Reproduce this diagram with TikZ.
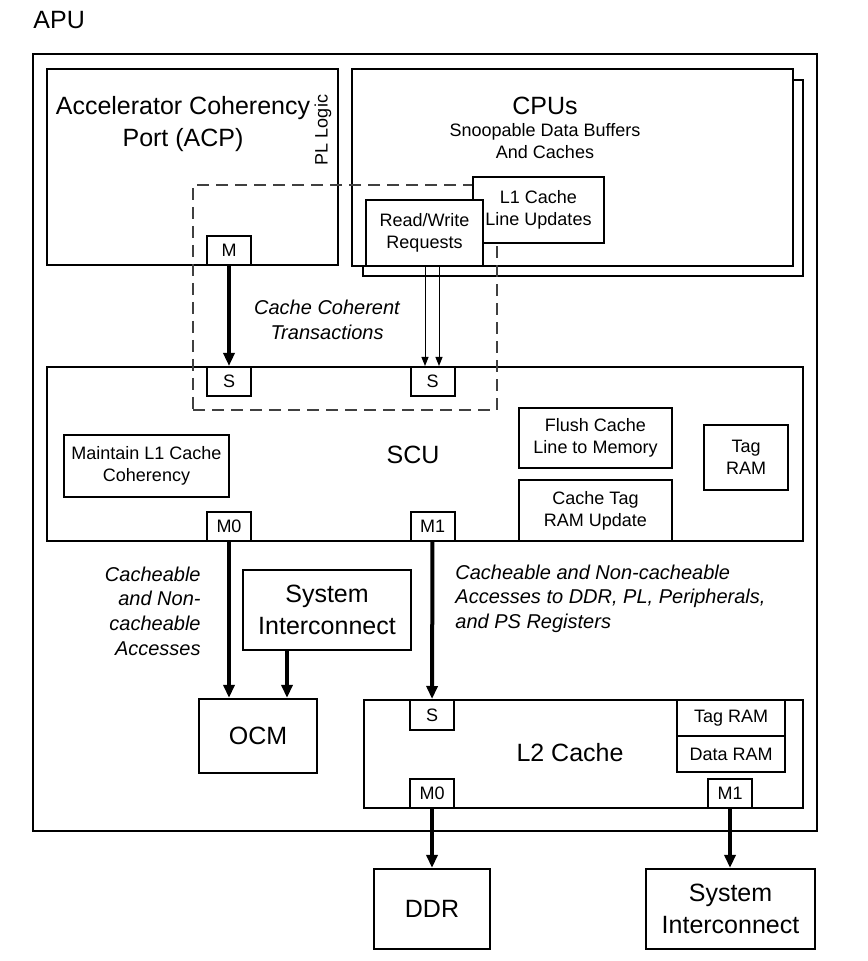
\documentclass[tikz,border=0pt]{standalone}
\usepackage{fontspec}
\setmainfont{Liberation Sans}
\usetikzlibrary{arrows.meta, positioning}

\tikzset{
	box/.style={draw, line width=1.1pt, fill=white, inner sep=0pt},
	port/.style={draw, line width=1pt, fill=white, inner sep=0pt, minimum width=22pt, minimum height=14.5pt, font=\fontsize{9}{11}\selectfont},
	bigtext/.style={font=\fontsize{12.5}{16}\selectfont, align=center, inner sep=0pt},
	smalltext/.style={font=\fontsize{9}{11}\selectfont, align=center},
	note/.style={font=\fontsize{10}{12.3}\selectfont\itshape, inner sep=0pt},
	bus/.style={line width=2pt, -{Triangle[length=6.5pt,width=5.5pt]}},
	req/.style={line width=0.5pt, -{Triangle[length=4.5pt,width=3.5pt]}},
	cohbox/.style={draw=black!75, line width=0.6pt, dash pattern=on 6pt off 3.5pt, inner sep=0pt},
}

\begin{document}
\begin{tikzpicture}[x=0.5pt, y=-0.5pt]
	\useasboundingbox (0,0) rectangle (867,961);

	% APU frame
	\node[bigtext, anchor=west] (apulabel) at (33,20) {APU};
	\node[box, minimum width=392pt, minimum height=388.5pt] (apu) at (425,442.5) {};

	% ACP
	\node[box, minimum width=145.5pt, minimum height=98pt] (acp) at (192.5,167) {};
	\node[bigtext] (acptext) at (183,124) {Accelerator Coherency\\Port (ACP)};
	\node[smalltext, rotate=90, inner sep=0pt] (pl) at (323,130) {PL Logic};

	% CPUs (two stacked boxes)
	\node[box, minimum width=220pt, minimum height=98pt] (cpuback) at (583,178) {};
	\node[box, minimum width=220.5pt, minimum height=98.5pt] (cpu) at (572.5,167.5) {};
	\node[bigtext] (cputitle) at (545,106) {CPUs};
	\node[smalltext, inner sep=0pt] (cpusub) at (545,141) {Snoopable Data Buffers\\And Caches};

	% SCU
	\node[box, minimum width=378pt, minimum height=87pt] (scu) at (425,454) {};
	\node[bigtext] (scutext) at (413,455) {SCU};

	% Coherent region
	\node[cohbox, minimum width=152pt, minimum height=112.5pt] (coh) at (345,297.5) {};
	\node[note, align=center] (cohtext) at (327,320) {Cache Coherent\\Transactions};

	\node[box, smalltext, minimum width=65.5pt, minimum height=33pt] (l1) at (538.5,210) {L1 Cache\\Line Updates};
	\node[box, smalltext, minimum width=58.5pt, minimum height=33pt] (rw) at (424.5,233) {Read/Write\\Requests};

	% Ports
	\node[port] (acpm) at (229,250.5) {M};
	\node[port] (scus0) at (229,381.5) {S};
	\node[port] (scus1) at (432.5,381.5) {S};
	\node[port] (scum0) at (229,526.5) {M0};
	\node[port] (scum1) at (432.5,526.5) {M1};

	% SCU blocks
	\node[box, smalltext, minimum width=82.5pt, minimum height=31pt] (maint) at (146.5,466) {Maintain L1 Cache\\Coherency};
	\node[box, smalltext, minimum width=76.5pt, minimum height=30pt] (flush) at (595.5,438) {Flush Cache\\Line to Memory};
	\node[box, smalltext, minimum width=76.5pt, minimum height=30.5pt] (tagupd) at (595.5,510.5) {Cache Tag\\RAM Update};
	\node[box, smalltext, minimum width=42pt, minimum height=32.5pt] (scutag) at (746,457.5) {Tag\\RAM};

	% OCM side
	\node[box, bigtext, minimum width=84pt, minimum height=40pt] (sysic) at (327,610) {System\\Interconnect};
	\node[box, bigtext, minimum width=59pt, minimum height=37pt] (ocm) at (258,736) {OCM};
	\node[note, align=right, anchor=east] (ocmnote) at (201,611) {Cacheable\\and Non-\\cacheable\\Accesses};
	\node[note, align=left, anchor=west] (l2note) at (455,598.5) {Cacheable and Non-cacheable\\Accesses to DDR, PL, Peripherals,\\and PS Registers};

	% L2 Cache
	\node[box, minimum width=219.5pt, minimum height=54pt] (l2) at (583.5,754) {};
	\node[bigtext] (l2text) at (570,753) {L2 Cache};
	\node[port, minimum height=15pt] (l2s) at (432,715) {S};
	\node[box, smalltext, minimum width=54pt, minimum height=18pt] (l2tag) at (731,718) {Tag RAM};
	\node[box, smalltext, minimum width=54pt, minimum height=18pt] (l2data) at (731,754) {Data RAM};
	\node[port] (l2m0) at (432,793.5) {M0};
	\node[port] (l2m1) at (730,793.5) {M1};

	% Outside APU
	\node[box, bigtext, minimum width=58pt, minimum height=40pt] (ddr) at (432,909) {DDR};
	\node[box, bigtext, minimum width=84.5pt, minimum height=40pt] (sysout) at (730.5,909) {System\\Interconnect};

	% Connections
	\draw[bus] (acpm) -- (scus0);
	\draw[req] ([xshift=0.25pt]rw.south) -- ([xshift=0.25pt]rw.south |- scus1.north);
	\draw[req] ([xshift=7.25pt]rw.south) -- ([xshift=7.25pt]rw.south |- scus1.north);
	\draw[bus] (scum0) -- (scum0.south |- ocm.north);
	\draw[bus] ([xshift=-20pt]sysic.south) -- ([xshift=-20pt]sysic.south |- ocm.north);
	\draw[bus] (scum1) -- (l2s);
	\draw[bus] (l2m0) -- (ddr);
	\draw[bus] (l2m1) -- (l2m1.south |- sysout.north);
\end{tikzpicture}
\end{document}
